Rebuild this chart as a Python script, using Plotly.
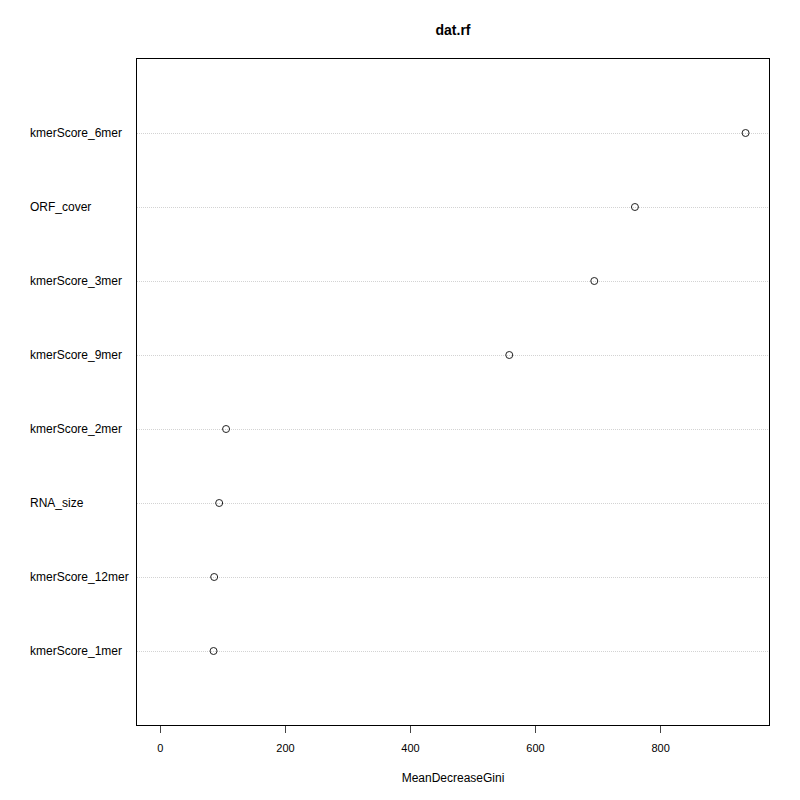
import plotly.graph_objects as go

# Variables (bottom to top, as drawn)
variables = ["kmerScore_1mer", "kmerScore_12mer", "RNA_size", "kmerScore_2mer",
             "kmerScore_9mer", "kmerScore_3mer", "ORF_cover", "kmerScore_6mer"]
mean_decrease_gini = [85, 86, 94, 105, 558, 694, 759, 936]
x_ticks = [0, 200, 400, 600, 800]

xmax = max(mean_decrease_gini)
pad = 0.04 * xmax

fig = go.Figure()
fig.add_trace(go.Scatter(
    x=mean_decrease_gini, y=variables, mode="markers",
    marker=dict(symbol="circle-open", size=7, color="#222",
                line=dict(width=1, color="#222")),
    showlegend=False, hoverinfo="x+y",
))

for v in variables:
    fig.add_annotation(x=-0.172, xref="paper", y=v, yref="y", text=v,
                       showarrow=False, xanchor="left", yanchor="middle",
                       font=dict(family="Liberation Sans, Arial, sans-serif", size=12, color="black"))

fig.update_layout(
    width=800, height=800,
    paper_bgcolor="white", plot_bgcolor="white",
    margin=dict(l=129, r=39, t=51, b=83),
    font=dict(family="Liberation Sans, Arial, sans-serif", size=11, color="black"),
    title=dict(text="<b>dat.rf</b>", x=0.5, xref="paper", xanchor="center",
               y=1 - 22 / 800, yref="container", yanchor="middle",
               font=dict(size=14, color="black")),
)
fig.update_xaxes(
    range=[-pad, xmax + pad], tickvals=x_ticks, ticktext=[str(t) for t in x_ticks],
    showgrid=False, zeroline=False, showline=True, linecolor="black", linewidth=1,
    mirror=True, ticks="outside", ticklen=7, tickcolor="#444",
    tickfont=dict(size=11), ticklabelstandoff=6,
    title=dict(text="MeanDecreaseGini", font=dict(size=12), standoff=20),
)
fig.update_yaxes(
    type="category", categoryorder="array", categoryarray=variables,
    range=[-1, len(variables)], showticklabels=False, ticks="",
    showgrid=True, gridcolor="#d3d3d3", gridwidth=1, griddash="1px,1px",
    zeroline=False, showline=True, linecolor="black", linewidth=1, mirror=True,
)

fig.write_html("out.html")
